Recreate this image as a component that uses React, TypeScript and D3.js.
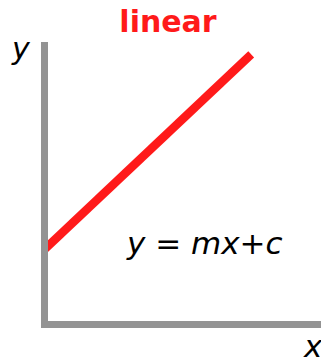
import React from "react";
import * as d3 from "d3";

const lineX = [0, 7.95];
const lineY = [2.68, 9.65];
const title = "linear";
const equation = "y = mx+c";
const xLabel = "x";
const yLabel = "y";

const W = 321;
const H = 359;

export default function App() {
  const x = d3.scaleLinear().domain([0, 10]).range([44.5, 304.5]);
  const y = d3.scaleLinear().domain([0, 10]).range([324.5, 44.5]);
  const pts: [number, number][] = lineX.map((v, i) => [x(v), y(lineY[i])]);
  const path = d3.line()(pts) || "";
  const gray = "#939393";
  const red = "#ff1a1a";
  const font = "DejaVu Sans, Verdana, sans-serif";
  return (
    <svg
      width={W}
      height={H}
      style={{ position: "absolute", left: 0, top: 0, background: "#fff" }}
    >
      <path d={path} stroke={red} strokeWidth={8.5} fill="none" strokeLinecap="butt" />
      <line x1={x(0)} y1={42} x2={x(0)} y2={328} stroke={gray} strokeWidth={7} />
      <line x1={41} y1={y(0)} x2={W} y2={y(0)} stroke={gray} strokeWidth={7} />
      <text x={168} y={32} textAnchor="middle" fill={red} fontFamily={font} fontWeight="bold" fontSize={30}>
        {title}
      </text>
      <text x={12} y={59} fill="#000" fontFamily={font} fontStyle="italic" fontSize={30}>
        {yLabel}
      </text>
      <text x={127} y={254} fill="#000" fontFamily={font} fontStyle="italic" fontSize={31}>
        {equation}
      </text>
      <text x={304} y={357} fill="#000" fontFamily={font} fontStyle="italic" fontSize={31}>
        {xLabel}
      </text>
    </svg>
  );
}
